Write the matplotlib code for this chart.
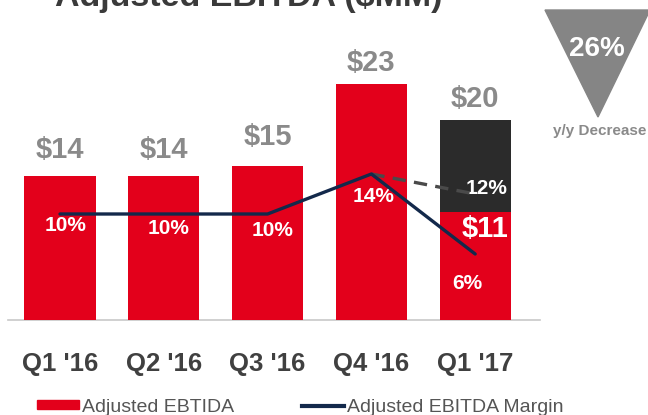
import matplotlib
matplotlib.use("Agg")
import matplotlib.pyplot as plt
from matplotlib.patches import Patch, Polygon
from matplotlib.lines import Line2D

plt.rcParams['font.family'] = ['Liberation Sans', 'DejaVu Sans']

categories = ["Q1 '16", "Q2 '16", "Q3 '16", "Q4 '16", "Q1 '17"]
ebitda = [14, 14, 15, 23, 10.5]        # red bars ($MM)
ebitda_extra = [0, 0, 0, 0, 9]         # dark stacked part (Q1 '17 total ~$20)
value_labels = ["$14", "$14", "$15", "$23", "$20"]
margin = [10, 10, 10, 14, 6]           # solid margin line, %
margin_dashed_x = [3, 4]
margin_dashed = [14, 12]               # dashed margin line, %
margin_labels = ["10%", "10%", "10%", "14%", "12%"]

# layout constants (not data)
label_offsets = [2.5, 2.5, 2.8, 2.0, 2.0]
pct_pos = [(0.05, 9.24), (1.05, 8.95), (2.05, 8.66), (3.02, 12.06), (4.11, 12.84)]

RED = "#E3001B"
NAVY = "#13294B"
DARK = "#2B2B2B"
GRAY = "#8A8A8A"
TICK = "#404040"

fig = plt.figure(figsize=(6.48, 4.15), dpi=100)
ax = fig.add_axes([0, 0, 1, 1])
ax.set_xlim(-0.578, 5.665)
ax.set_ylim(-9.24, 31.13)
ax.axis('off')

x = list(range(len(categories)))
w = 0.685
ax.bar(x, ebitda, width=w, color=RED, zorder=2)
ax.bar(x, ebitda_extra, bottom=ebitda, width=w, color=DARK, zorder=2)
ax.axhline(0, xmin=8/648, xmax=540/648, color="#C8C8C8", lw=1.2, zorder=1)

totals = [a + b for a, b in zip(ebitda, ebitda_extra)]
for xi, t, lab, off in zip(x, totals, value_labels, label_offsets):
    ax.text(xi, t + off, lab, ha='center', va='center', fontsize=21,
            fontweight='bold', color=GRAY)

for xi, c in zip(x, categories):
    ax.text(xi, -4.3, c, ha='center', va='center', fontsize=18.5,
            fontweight='bold', color=TICK)

# margin line on twin axis
ax2 = ax.twinx()
ax2.set_position([0, 0, 1, 1])
ax2.set_xlim(ax.get_xlim())
ax2.set_ylim(-10.1, 31.4)
ax2.axis('off')
ax2.plot(margin_dashed_x, margin_dashed, color="#4A4A4A", lw=2.4, ls=(0, (4, 2.5)), zorder=3)
ax2.plot(x, margin, color=NAVY, lw=2.4, zorder=4, solid_capstyle='round')

# margin labels (white, inside bars)
for (px, py), lab in zip(pct_pos, margin_labels):
    ax.text(px, py, lab, ha='center', va='center', fontsize=15,
            fontweight='bold', color='white', zorder=5)
ax.text(3.92, 3.6, f"{margin[4]}%", ha='center', va='center', fontsize=15,
        fontweight='bold', color='white', zorder=5)
ax.text(4.09, 8.85, "$11", ha='center', va='center', fontsize=21,
        fontweight='bold', color='white', zorder=5)

# triangle callout
tri = Polygon([[545/648, 1 - 10/415], [650/648, 1 - 10/415], [598/648, 1 - 117/415]],
              closed=True, transform=fig.transFigure, color="#858585", zorder=1)
fig.patches.append(tri)
fig.text(597/648, 1 - 49/415, "26%", ha='center', va='center', fontsize=20,
         fontweight='bold', color='white')
fig.text(600/648, 1 - 131/415, "y/y Decrease", ha='center', va='center', fontsize=11,
         fontweight='bold', color=GRAY)

# title (cut at the top, as in the source)
fig.text(249/648, 1 - 6/415, "Adjusted EBITDA ($MM)", ha='center', va='baseline',
         fontsize=24.5, fontweight='bold', color="#3A3A3A")

handles = [Patch(color=RED), Line2D([0], [0], color=NAVY, lw=3)]
ax.legend(handles, ["Adjusted EBTIDA", "Adjusted EBITDA Margin"],
          loc='center left', bbox_to_anchor=(37/648, 1 - 407/415), ncol=2,
          frameon=False, fontsize=14, handlelength=2.15, handleheight=0.35,
          handletextpad=0.15, columnspacing=3.5, borderpad=0, borderaxespad=0,
          labelcolor="#555555")

fig.savefig("out.png", dpi=100)
